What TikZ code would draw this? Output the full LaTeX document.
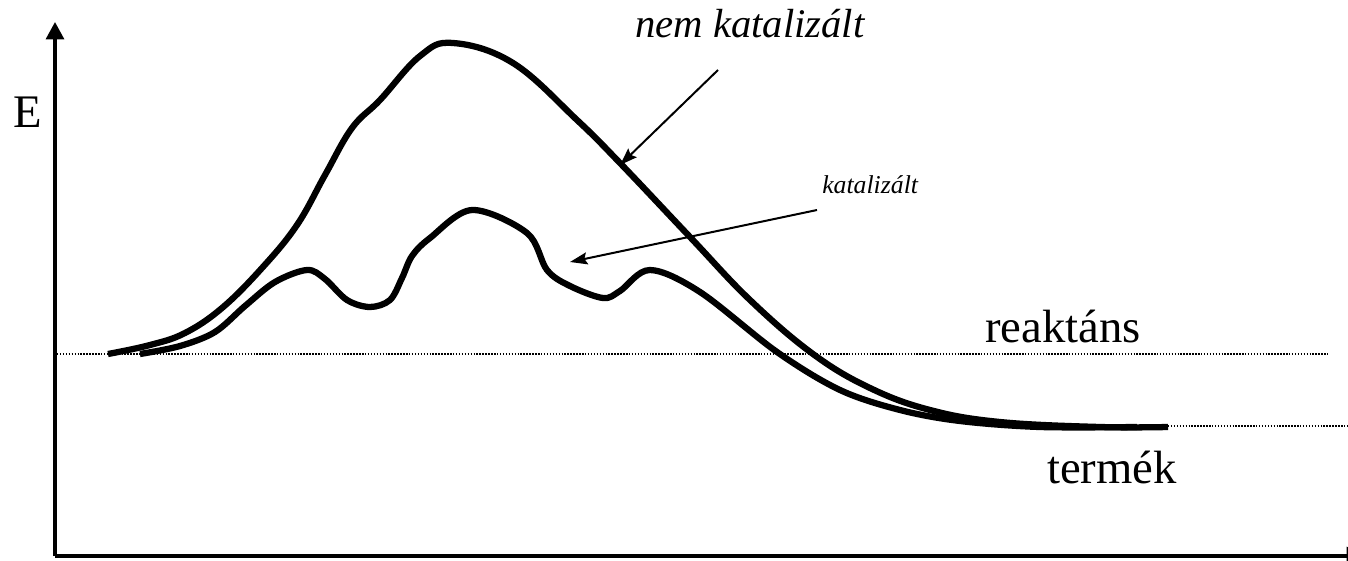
\documentclass[tikz,border=0pt]{standalone}
\usepackage{fontspec}
\setmainfont{Liberation Serif}
\usetikzlibrary{arrows.meta}
\begin{document}
\begin{tikzpicture}[x=0.75pt,y=-0.75pt,
  axis/.style={line width=2.3pt,-{Triangle[length=13pt,width=13.5pt]}},
  curve/.style={line width=4.7pt,line join=round},
  level/.style={line width=0.8pt,dash pattern=on 1.1pt off 1.1pt},
  pointer/.style={line width=1.5pt,-{Stealth[length=13pt,width=9pt,inset=2pt]}},
  big/.style={inner sep=0pt,anchor=base west,font=\fontsize{35}{40}\selectfont},
  lab/.style={inner sep=0pt,anchor=base west,font=\itshape\fontsize{30.5}{36}\selectfont},
  smalllab/.style={inner sep=0pt,anchor=base west,font=\itshape\fontsize{19.3}{23}\selectfont}]
\useasboundingbox (0,0) rectangle (1348,560);
% axes
\coordinate (O) at (55,556);
\coordinate (Ytop) at (55,22);
\coordinate (Xend) at (1364,556);
\draw[axis] (O) -- (Ytop);
\draw[axis] (O) -- (Xend);
% level lines
\coordinate (r1) at (57,354);
\coordinate (r2) at (1328,354);
\coordinate (t1) at (1168,426);
\coordinate (t2) at (1348,426);
\draw[level] (r1) -- (r2);
\draw[level] (t1) -- (t2);
% uncatalysed
\draw[curve] plot[smooth,tension=0.65] coordinates {
 (108,354) (150,345) (185,333) (222,308) (262,268) (297,225) (325,175)
 (352,128) (380,100) (420,56) (453,43) (513,63) (577,120) (620,163)
 (690,237) (750,300) (813,354) (870,388) (930,410) (1000,422) (1100,427) (1168,427)};
% catalysed
\draw[curve] plot[smooth,tension=0.55] coordinates {
 (140,354) (180,346) (215,332) (245,306) (275,282) (307,270) (325,279)
 (347,300) (370,307) (390,300) (402,278) (412,256) (430,238) (472,210)
 (527,233) (547,270) (570,286) (603,298) (620,291) (650,270) (700,292)
 (777,352) (840,390) (900,410) (960,421) (1040,427) (1137,427)};
% labels
\node[big] (E) at (13,127) {E};
\node[big] (reak) at (985,342) {reaktáns};
\node[big] (term) at (1047,483) {termék};
\node[lab] (nk) at (635,38) {nem katalizált};
\node[smalllab] (k) at (822,193) {katalizált};
% pointers
\coordinate (a1s) at (718,70);
\coordinate (a1e) at (620,165);
\coordinate (a2s) at (817,210);
\coordinate (a2e) at (570,262);
\draw[pointer] (a1s) -- (a1e);
\draw[pointer] (a2s) -- (a2e);
\end{tikzpicture}
\end{document}
